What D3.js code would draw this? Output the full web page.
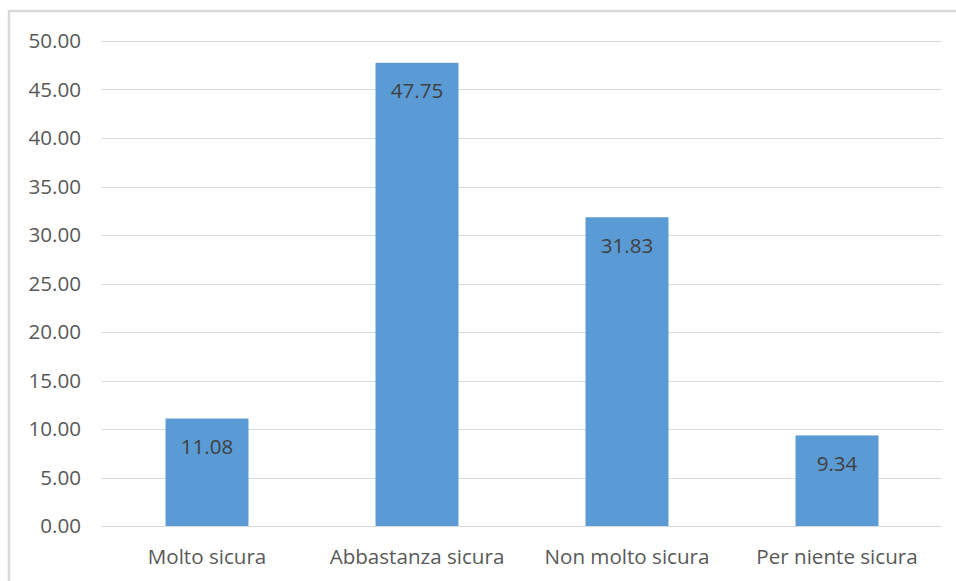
<!DOCTYPE html>
<html><head><meta charset="utf-8">
<script src="https://cdn.jsdelivr.net/npm/d3@7"></script>
<style>body{margin:0;background:#fff}svg{display:block}</style>
</head><body>
<svg id="c" width="956" height="581"></svg>
<script>
const categories = ["Molto sicura", "Abbastanza sicura", "Non molto sicura", "Per niente sicura"];
const values = [11.08, 47.75, 31.83, 9.34];
const yTicks = [0, 5, 10, 15, 20, 25, 30, 35, 40, 45, 50];

(function () {
const svg = d3.select("#c");
const font = "'Open Sans', sans-serif";
const fs = 20.6;
const m = { left: 102, right: 942, top: 41, bottom: 526 };

// chart border (top and left visible)
svg.append("rect").attr("x", 9).attr("y", 11).attr("width", 960).attr("height", 600)
  .attr("fill", "none").attr("stroke", "#d9d9d9").attr("stroke-width", 2.5);

const x = d3.scaleBand().domain(categories).range([m.left, m.right]).padding(0);
const y = d3.scaleLinear().domain([0, 50]).range([m.bottom, m.top]);

svg.append("g").selectAll("line").data(yTicks).join("line")
  .attr("x1", m.left).attr("x2", m.right)
  .attr("y1", d => Math.round(y(d)) + 0.5).attr("y2", d => Math.round(y(d)) + 0.5)
  .attr("stroke", "#d9d9d9").attr("stroke-width", 1.2);

svg.append("g").selectAll("text").data(yTicks).join("text")
  .attr("x", 81).attr("y", d => y(d)).attr("dy", "0.36em")
  .attr("text-anchor", "end").attr("fill", "#595959")
  .attr("font-family", font).attr("font-size", fs)
  .text(d => d.toFixed(2));

const bw = x.bandwidth() * 0.395;
svg.append("g").selectAll("rect").data(values).join("rect")
  .attr("x", (d, i) => x(categories[i]) + x.bandwidth() / 2 - bw / 2)
  .attr("width", bw)
  .attr("y", d => y(d)).attr("height", d => y(0) - y(d))
  .attr("fill", "#5b9bd5");

svg.append("g").selectAll("text").data(values).join("text")
  .attr("x", (d, i) => x(categories[i]) + x.bandwidth() / 2)
  .attr("y", d => y(d) + 28).attr("dy", "0.36em")
  .attr("text-anchor", "middle").attr("fill", "#404040")
  .attr("font-family", font).attr("font-size", fs)
  .text(d => d.toFixed(2));

svg.append("g").selectAll("text").data(categories).join("text")
  .attr("x", d => x(d) + x.bandwidth() / 2)
  .attr("y", 557).attr("dy", "0.36em")
  .attr("text-anchor", "middle").attr("fill", "#595959")
  .attr("font-family", font).attr("font-size", fs)
  .text(d => d);
})();
</script>
</body></html>
